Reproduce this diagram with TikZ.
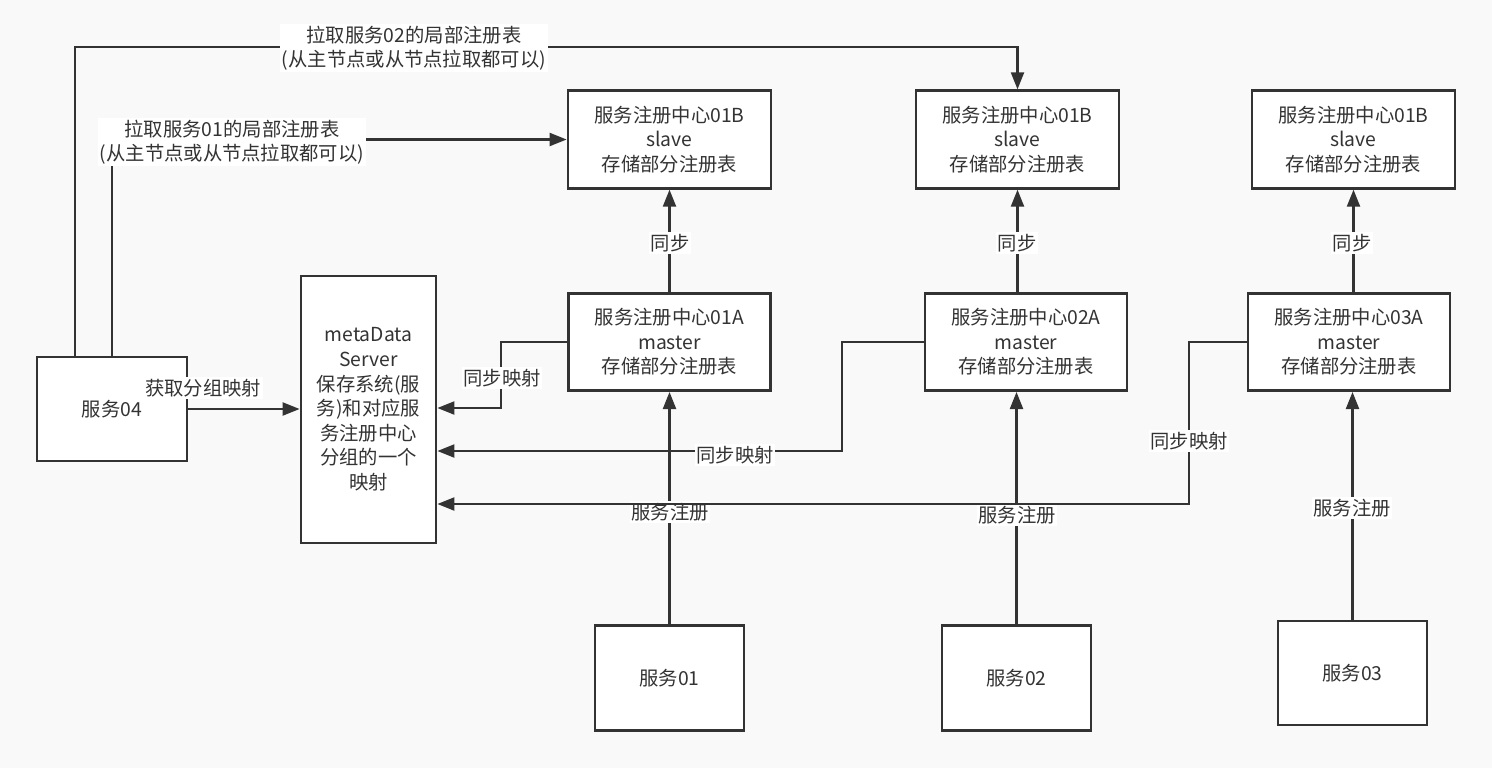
\documentclass[tikz,border=0pt]{standalone}
\usepackage{fontspec}
\setmainfont{Noto Sans CJK SC}
\usetikzlibrary{arrows.meta}
\definecolor{bgcol}{HTML}{F9F9F9}
\definecolor{inkcol}{HTML}{333333}

\begin{document}
\begin{tikzpicture}[x=0.02cm, y=-0.02cm,
    box/.style={draw=inkcol, line width=1.6pt, fill=white, align=center, text=inkcol,
      inner sep=0pt, font=\fontsize{11pt}{14pt}\selectfont},
    regbox/.style={box, minimum width=4.06cm, minimum height=1.95cm},
    cbox/.style={box, minimum width=2.98cm, minimum height=2.1cm},
    arr/.style={draw=inkcol, line width=1.25pt, -{Triangle[length=0.34cm, width=0.26cm]}},
    lbl/.style={fill=white, text=inkcol, inner sep=1pt, align=center,
      font=\fontsize{11pt}{13.8pt}\selectfont}]
    \def \ytop {139.5} % slave row
    \def \ymid {342}   % master row
    \fill[bgcol] (0,0) rectangle (1492,768);
    \useasboundingbox (0,0) rectangle (1492,768);

    % slave and master registries
    \foreach \i/\xs/\xm in {1/669.5/669.5, 2/1017.5/1026, 3/1353.5/1349}
    {
      \node[regbox] (s\i) at (\xs,\ytop) {服务注册中心01B\\slave\\存储部分注册表};
      \node[regbox, minimum width=4.04cm] (m\i) at (\xm,\ymid) {服务注册中心0\i A\\master\\存储部分注册表};
    }

    % services
    \node[cbox] (c1) at (669.5,678) {服务01};
    \node[cbox] (c2) at (1016.5,678) {服务02};
    \node[cbox, minimum height=2.08cm] (c3) at (1352.5,673) {服务03};
    \node[cbox, minimum width=3cm, minimum height=2.08cm] (c4) at (112,409) {服务04};
    \node[box, minimum width=2.7cm, minimum height=5.34cm] (meta) at (368.5,409.5)
      {metaData\\Server\\保存系统(服\\务)和对应服\\务注册中心\\分组的一个\\映射};

    \coordinate (c4a) at (75,357);
    \coordinate (top2) at (1017.5,47);

    % sync and register
    \foreach \i in {1,2,3}
    {
      \draw[arr] (m\i.north -| s\i.south) -- (s\i.south);
      \draw[arr] (c\i.north) -- (c\i.north |- 0,392);
    }
    \node[lbl] (t1) at (670,243) {同步};
    \node[lbl] (t2) at (1017,243) {同步};
    \node[lbl] (t3) at (1352,243) {同步};
    \node[lbl] (r1) at (670,512) {服务注册};
    \node[lbl] (r2) at (1017,515) {服务注册};
    \node[lbl] (r3) at (1352,508) {服务注册};

    % mapping to metaData
    \draw[arr] (m1.west) -- ++(-66,0) |- (meta.east |- 0,408);
    \draw[arr] (m2.west) -- ++(-82,0) |- (meta.east |- 0,451);
    \draw[arr] (m3.west) -- ++(-58,0) |- (meta.east |- 0,504);
    \node[lbl] (y1) at (502,378) {同步映射};
    \node[lbl] (y2) at (735,455) {同步映射};
    \node[lbl] (y3) at (1189,441) {同步映射};

    \draw[arr] (c4.east) -- (meta.west |- c4.east);
    \node[lbl] (g4) at (203,388) {获取分组映射};

    % pull partial tables
    \draw[arr] (c4.north) |- (s1.west);
    \draw[arr] (c4a) |- (top2) -- (s2.north);
    \node[lbl] (p1) at (232,142) {拉取服务01的局部注册表\\(从主节点或从节点拉取都可以)};
    \node[lbl] (p2) at (414,48) {拉取服务02的局部注册表\\(从主节点或从节点拉取都可以)};
\end{tikzpicture}
\end{document}
